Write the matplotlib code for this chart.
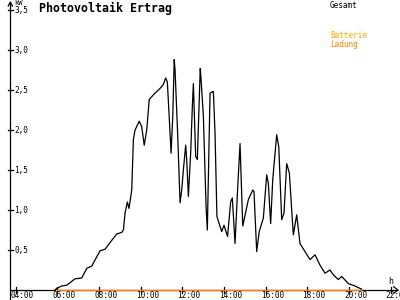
import matplotlib
matplotlib.use("Agg")
import matplotlib.pyplot as plt

# Data (hours, kW)
hours = [5.89, 5.97, 6.21, 6.45, 6.85, 7.17, 7.41, 7.65, 8.05, 8.29, 8.61, 8.85, 9.09, 9.17,
         9.25, 9.36, 9.44, 9.57, 9.65, 9.73, 9.93, 10.05, 10.17, 10.29, 10.41, 10.61, 10.93,
         11.09, 11.20, 11.28, 11.36, 11.46, 11.54, 11.61, 11.65, 11.78, 11.89, 11.97, 12.05,
         12.16, 12.21, 12.29, 12.40, 12.48, 12.53, 12.64, 12.72, 12.86, 12.90, 13.01, 13.14,
         13.20, 13.33, 13.46, 13.49, 13.57, 13.66, 13.89, 14.00, 14.17, 14.32, 14.40, 14.53,
         14.66, 14.77, 14.90, 15.17, 15.38, 15.44, 15.57, 15.69, 15.89, 16.05, 16.13, 16.24,
         16.34, 16.53, 16.63, 16.77, 16.88, 17.01, 17.14, 17.25, 17.33, 17.49, 17.65, 17.89,
         18.13, 18.37, 18.61, 18.85, 19.09, 19.25, 19.49, 19.65, 19.97, 20.29, 20.61]
gesamt = [0.00, 0.02, 0.05, 0.06, 0.14, 0.15, 0.27, 0.30, 0.49, 0.51, 0.62, 0.70, 0.72, 0.75,
          0.96, 1.10, 1.02, 1.25, 1.88, 2.00, 2.11, 2.04, 1.81, 2.00, 2.38, 2.44, 2.52,
          2.57, 2.65, 2.60, 2.21, 1.71, 2.17, 2.88, 2.75, 1.92, 1.09, 1.25, 1.50,
          1.81, 1.63, 1.17, 1.71, 2.29, 2.58, 1.67, 1.63, 2.77, 2.63, 2.17, 1.04,
          0.75, 2.46, 2.48, 2.48, 1.96, 0.92, 0.73, 0.81, 0.67, 1.10, 1.15, 0.58,
          1.29, 1.83, 0.80, 1.13, 1.25, 1.23, 0.48, 0.73, 0.90, 1.44, 1.33, 0.83,
          1.38, 1.94, 1.79, 0.88, 0.96, 1.58, 1.46, 1.00, 0.69, 0.94, 0.58, 0.48,
          0.38, 0.44, 0.31, 0.21, 0.25, 0.19, 0.13, 0.17, 0.08, 0.05, 0.01]
ladung_hours = [5.89, 20.61]
ladung = [0.0, 0.0]

x_ticks = [4, 6, 8, 10, 12, 14, 16, 18, 20, 22]
x_labels = ["04:00", "06:00", "08:00", "10:00", "12:00", "14:00", "16:00", "18:00", "20:00", "22:00"]
y_ticks = [0.5, 1.0, 1.5, 2.0, 2.5, 3.0, 3.5]
y_labels = ["0,5", "1,0", "1,5", "2,0", "2,5", "3,0", "3,5"]

fig = plt.figure(figsize=(4, 3), dpi=100)
ax = fig.add_axes([0, 0, 1, 1])
ax.set_xlim(3.246, 22.45)
ax.set_ylim(-0.125, 3.625)
ax.axis("off")

font = "DejaVu Sans Mono"
lw = 0.9
x_axis_start = 3.74
x_axis_end = 22.35

# axes lines
ax.plot([x_axis_start, x_axis_start], [-0.125, 3.60], color="black", lw=lw, solid_capstyle="butt")
ax.plot([x_axis_start, x_axis_end], [0, 0], color="black", lw=lw, solid_capstyle="butt")
# arrows
ax.plot([x_axis_start - 0.1, x_axis_start, x_axis_start + 0.1], [3.55, 3.60, 3.55], color="black", lw=lw)
ax.plot([x_axis_end - 0.2, x_axis_end, x_axis_end - 0.2], [0.04, 0, -0.04], color="black", lw=lw)

# ticks
for t, lab in zip(x_ticks, x_labels):
    ax.plot([t, t], [-0.035, 0.035], color="black", lw=lw)
    ax.text(t - 0.24, -0.1, lab, fontsize=5.6, family=font, ha="left", va="baseline", color="black")
for v, lab in zip(y_ticks, y_labels):
    ax.plot([x_axis_start - 0.11, x_axis_start + 0.11], [v, v], color="black", lw=lw)
    ax.text(x_axis_start + 0.2, v, lab, fontsize=5.6, family=font, ha="left", va="center", color="black")
ax.text(x_axis_start + 0.2, 3.585, "kW", fontsize=5.0, family=font, ha="left", va="center", color="black")
ax.text(22.0, 0.1, "h", fontsize=6, family=font, ha="center", va="center", color="black")

# data
ax.plot(ladung_hours, ladung, color="#FF8000", lw=1.0, solid_capstyle="butt")
ax.plot(hours, gesamt, color="black", lw=lw)

# title and legend
fig.text(39 / 400, 1 - 8 / 300, "Photovoltaik Ertrag", fontsize=8.4, family=font,
         fontweight="bold", ha="left", va="center", color="black")
fig.text(330 / 400, 1 - 5 / 300, "Gesamt", fontsize=5.6, family=font, ha="left", va="center", color="black")
fig.text(330 / 400, 1 - 36 / 300, "Batterie", fontsize=5.6, family=font, ha="left", va="center", color="#FFAA00")
fig.text(330 / 400, 1 - 44 / 300, "Ladung", fontsize=5.6, family=font, ha="left", va="center", color="#FF8000")

fig.savefig("out.png", dpi=100, facecolor="white")
